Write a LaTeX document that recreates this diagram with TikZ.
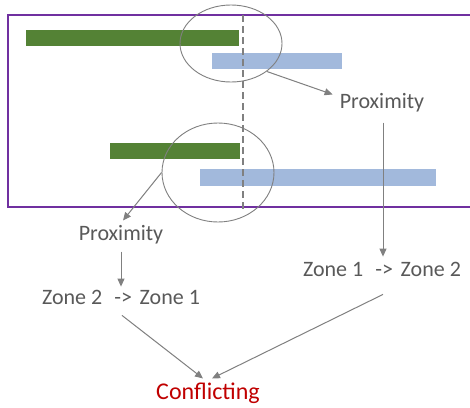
\documentclass[tikz,border=0pt]{standalone}
\usepackage{fontspec}
\setmainfont{Carlito}
\usetikzlibrary{arrows.meta,shapes.geometric}
\definecolor{barGreen}{HTML}{548235}
\definecolor{barBlue}{HTML}{A2B9DC}
\definecolor{frame}{HTML}{7030A0}
\definecolor{lineGrey}{HTML}{808080}
\definecolor{textGrey}{HTML}{595959}
\definecolor{alertRed}{HTML}{C00000}
\tikzset{
  zone/.style={ellipse, draw=lineGrey, line width=0.9pt, inner sep=0pt},
  lbl/.style={text=textGrey, font=\fontsize{22}{26}\selectfont, inner sep=1pt},
  arr/.style={draw=lineGrey, line width=1pt, -{Triangle[length=8pt,width=7pt]}},
}
\newcommand{\zonearrow}{\hspace{0.55em}->\hspace{0.35em}}
\begin{document}
\begin{tikzpicture}[x=1pt,y=-1pt]
\clip (0,0) rectangle (470,407);
\fill[white] (0,0) rectangle (470,407);

% time bars
\fill[barGreen] (26,30) rectangle (239,46);
\fill[barBlue] (212,53) rectangle (342,69);
\fill[barGreen] (110,143) rectangle (240,159);
\fill[barBlue] (200,169) rectangle (436,186);

% frame and zone boundary
\draw[frame, line width=2pt] (8,15) rectangle (490,207);
\draw[lineGrey, line width=1.5pt, dash pattern=on 7pt off 4pt] (243,15) -- (243,212);

% proximity areas
\node[zone, minimum width=102pt, minimum height=77pt] (e1) at (231,43.5) {};
\node[zone, minimum width=112pt, minimum height=99pt] (e2) at (218,172.5) {};

% labels
\node[lbl] (prox1) at (382,103) {Proximity};
\node[lbl] (z12) at (382,269) {Zone 1\zonearrow Zone 2};
\node[lbl] (prox2) at (121,235) {Proximity};
\node[lbl] (z21) at (121,297) {Zone 2\zonearrow Zone 1};
\node[text=alertRed, font=\fontsize{24}{28}\selectfont, inner sep=1pt] (conf) at (208,393) {Conflicting};

% connectors
\draw[arr] (e1.-38) -- ([xshift=-6pt,yshift=-2pt]prox1.north west);
\draw[arr] ([xshift=1pt,yshift=-9pt]prox1.south) -- ([xshift=1pt,yshift=4pt]z12.north);
\draw[arr] (e2.west) -- ([xshift=2pt,yshift=4pt]prox2.north);
\draw[arr] ([yshift=-6pt]prox2.south) -- ([yshift=2pt]z21.north);
\draw[arr] ([xshift=1pt,yshift=-10pt]z21.south) -- ([xshift=-5pt,yshift=3pt]conf.north);
\draw[arr] ([xshift=1pt,yshift=-17pt]z12.south) -- ([xshift=4pt,yshift=3pt]conf.north);
\end{tikzpicture}
\end{document}
